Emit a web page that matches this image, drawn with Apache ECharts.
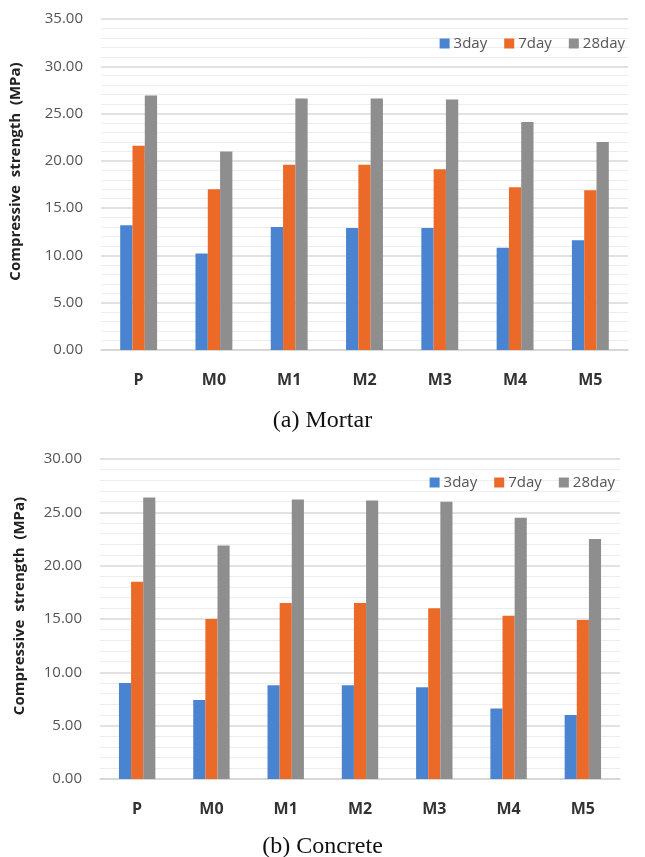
<!DOCTYPE html>
<html>
<head>
<meta charset="utf-8">
<script src="https://cdn.jsdelivr.net/npm/echarts@6/dist/echarts.min.js"></script>
<style>
  html, body { margin: 0; padding: 0; background: #ffffff; }
  #chart { width: 645px; height: 857px; }
</style>
</head>
<body>
<div id="chart"></div>
<script>
// Mix designs on the x axis
const categories = ['P', 'M0', 'M1', 'M2', 'M3', 'M4', 'M5'];
const seriesNames = ['3day', '7day', '28day'];

// (a) Mortar compressive strength, MPa
const mortar3day = [13.2, 10.2, 13.0, 12.9, 12.9, 10.8, 11.6];
const mortar7day = [21.6, 17.0, 19.6, 19.6, 19.1, 17.2, 16.9];
const mortar28day = [26.9, 21.0, 26.6, 26.6, 26.5, 24.1, 22.0];

// (b) Concrete compressive strength, MPa
const concrete3day = [9.0, 7.4, 8.8, 8.8, 8.6, 6.6, 6.0];
const concrete7day = [18.5, 15.0, 16.5, 16.5, 16.0, 15.3, 14.9];
const concrete28day = [26.4, 21.9, 26.2, 26.1, 26.0, 24.5, 22.5];

const colors = ['#4A84D0', '#EB6A28', '#8E8E8E'];
const sansFont = '"Open Sans", "Noto Sans", sans-serif';
const serifFont = '"Liberation Serif", "DejaVu Serif", serif';

const chart = echarts.init(document.getElementById('chart'), null, { renderer: 'canvas' });

function valueAxis(gridIndex, max, nameGap) {
  return {
    type: 'value',
    gridIndex: gridIndex,
    min: 0,
    max: max,
    interval: 5,
    name: 'Compressive  strength  (MPa)',
    nameLocation: 'middle',
    nameGap: nameGap,
    nameRotate: 90,
    nameTextStyle: {
      fontFamily: sansFont, fontWeight: 'bold', fontSize: 15, color: '#222222',
      padding: [0, 0, 0, 26]
    },
    axisLine: { show: false },
    axisTick: { show: false },
    axisLabel: {
      formatter: v => v.toFixed(2),
      fontFamily: sansFont, fontSize: 15, color: '#555555', margin: 18
    },
    splitLine: { show: true, lineStyle: { color: '#d9d9d9', width: 1.5 } },
    minorTick: { show: false, splitNumber: 5 },
    minorSplitLine: { show: true, lineStyle: { color: '#ededed', width: 1 } }
  };
}

function categoryAxis(gridIndex) {
  return {
    type: 'category',
    gridIndex: gridIndex,
    data: categories,
    axisLine: { show: true, lineStyle: { color: '#d4d4d4', width: 1.5 } },
    axisTick: { show: false },
    axisLabel: {
      fontFamily: sansFont, fontWeight: 'bold', fontSize: 16, color: '#333333', margin: 22
    }
  };
}

function barSeries(name, data, idx, color) {
  return {
    name: name,
    type: 'bar',
    xAxisIndex: idx,
    yAxisIndex: idx,
    data: data,
    barGap: '0%',
    barCategoryGap: '51%',
    itemStyle: { color: color },
    emphasis: { disabled: true }
  };
}

const option = {
  backgroundColor: '#ffffff',
  animation: false,
  color: colors,
  title: [
    {
      text: '(a) Mortar', left: 'center', top: 404,
      textStyle: { fontFamily: serifFont, fontWeight: 'normal', fontSize: 24, color: '#111111' }
    },
    {
      text: '(b) Concrete', left: 'center', top: 830,
      textStyle: { fontFamily: serifFont, fontWeight: 'normal', fontSize: 24, color: '#111111' }
    }
  ],
  legend: [
    {
      data: seriesNames, right: 15, top: 31, itemWidth: 10, itemHeight: 10, itemGap: 17,
      icon: 'rect',
      textStyle: { fontFamily: sansFont, fontSize: 15, color: '#555555', padding: [0, 0, 0, -1] }
    },
    {
      data: seriesNames, right: 25, top: 470, itemWidth: 10, itemHeight: 10, itemGap: 17,
      icon: 'rect',
      textStyle: { fontFamily: sansFont, fontSize: 15, color: '#555555', padding: [0, 0, 0, -1] }
    }
  ],
  grid: [
    { left: 100, right: 17, top: 19, height: 331 },
    { left: 100, right: 25, top: 459, height: 320 }
  ],
  xAxis: [categoryAxis(0), categoryAxis(1)],
  yAxis: [valueAxis(0, 35, 78), valueAxis(1, 30, 73)],
  series: [
    barSeries('3day', mortar3day, 0, colors[0]),
    barSeries('7day', mortar7day, 0, colors[1]),
    barSeries('28day', mortar28day, 0, colors[2]),
    barSeries('3day', concrete3day, 1, colors[0]),
    barSeries('7day', concrete7day, 1, colors[1]),
    barSeries('28day', concrete28day, 1, colors[2])
  ]
};

chart.setOption(option);
</script>
</body>
</html>
